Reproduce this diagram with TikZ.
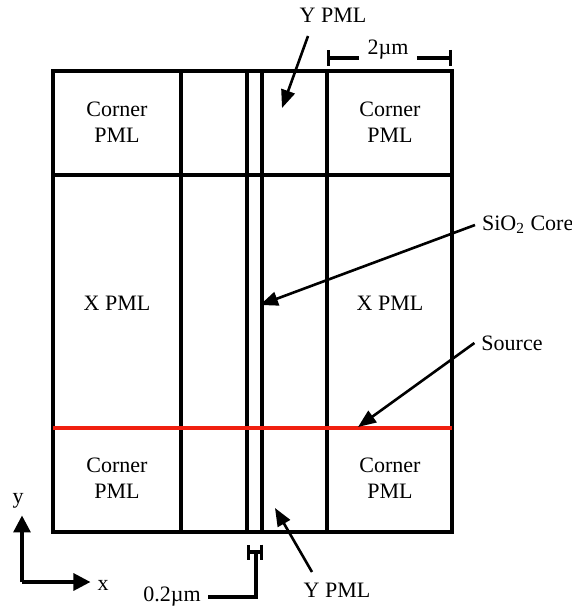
\documentclass[tikz,border=0pt]{standalone}
\usepackage{fontspec}
\setmainfont{Liberation Serif}
\usetikzlibrary{arrows.meta}
\definecolor{SourceRed}{HTML}{F02010}
\definecolor{Ink}{HTML}{000000}

\begin{document}
\begin{tikzpicture}[x=0.5pt,y=-0.5pt,font=\fontsize{11}{13}\selectfont]
\tikzset{
  wall/.style={Ink, line width=1.6pt},
  ptr/.style={Ink, line width=1.3pt, -{Triangle[length=9pt,width=7pt]}},
  axis/.style={Ink, line width=1.6pt, -{Triangle[length=8.5pt,width=8.5pt]}},
  dimbar/.style={Ink, line width=1.6pt},
  lbl/.style={inner sep=3.33pt}
}
\useasboundingbox (0,0) rectangle (571,608);
% computational window
\coordinate (nw) at (53,71);
\coordinate (se) at (452,532);
\draw[wall] (nw) rectangle (se);
\foreach \xv in {181,247,262,327}
  \draw[wall] (\xv,71) -- (\xv,532);
\draw[wall] (53,175) -- (452,175);
\draw[SourceRed, line width=2pt] (53,428) -- (452,428);
% region names
\node[align=center] (cnw) at (117,122) {Corner\\PML};
\node[align=center] (cne) at (390,122) {Corner\\PML};
\node[align=center] (csw) at (117,478) {Corner\\PML};
\node[align=center] (cse) at (390,478) {Corner\\PML};
\node (xw) at (117,303) {X PML};
\node (xe) at (390,303) {X PML};
% pointers
\node[lbl] (ytop) at (333,15) {Y PML};
\coordinate (ytoptail) at (308,36);
\coordinate (ytoptip) at (282,108);
\draw[ptr] (ytoptail) -- (ytoptip);
\node[lbl, anchor=west] (core) at (475,225) {SiO\textsubscript{2} Core};
\coordinate (coretip) at (260,305);
\draw[ptr] (core.west) -- (coretip);
\node[lbl] (src) at (512,343) {Source};
\coordinate (srctip) at (358,427);
\draw[ptr] (src.west) -- (srctip);
\node[lbl] (ybot) at (337,590) {Y PML};
\coordinate (ybottail) at (312,572);
\coordinate (ybottip) at (275,508);
\draw[ptr] (ybottail) -- (ybottip);
% dimensions
\node[inner sep=4pt] (dlab) at (388,50) {2µm};
\coordinate (d1) at (327,58);
\coordinate (d2) at (452,58);
\draw[dimbar, {Bar[width=8pt]}-] (d1) -- (d1 -| dlab.west);
\draw[dimbar, -{Bar[width=8pt]}] (d2 -| dlab.east) -- (d2);
\coordinate (g1) at (247,552);
\coordinate (g2) at (263,552);
\draw[dimbar, {Bar[width=7.5pt]}-{Bar[width=7.5pt]}] (g1) -- (g2);
\node[lbl] (glab) at (172,597) {0.2µm};
\draw[dimbar] (256,552) |- (glab.east);
% axes
\coordinate (org) at (22,582);
\node (xlab) at (103,585) {x};
\node (ylab) at (18,501) {y};
\draw[axis] (org) -- (xlab.west |- org);
\draw[axis] (org) -- (org |- ylab.south);
\end{tikzpicture}
\end{document}
